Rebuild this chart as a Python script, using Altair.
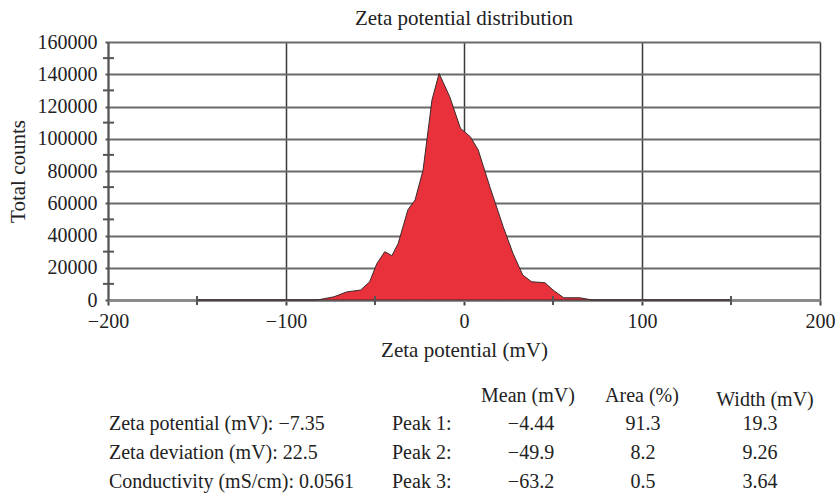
import altair as alt
import pandas as pd

# ---- data ----
zeta_mv = [-150, -100, -83, -81, -73, -66, -58, -53, -49, -44.5, -40.5, -37, -31.5,
           -27.5, -23, -18, -14, -8, -2, 3.5, 8, 14.5, 22, 27.5, 33, 38, 45.5, 50,
           56, 65, 72, 100, 150]
total_counts = [0, 0, 0, 300, 2000, 5000, 6200, 11300, 22500, 30000, 27500, 35000,
                56000, 62000, 80500, 124000, 140500, 126000, 106500, 101300, 93000,
                70300, 45500, 29000, 15500, 11300, 10700, 6200, 1400, 1400, 0, 0, 0]

x_ticks = [-200, -100, 0, 100, 200]
x_minor = [-150, -50, 50, 150]
y_ticks = [0, 20000, 40000, 60000, 80000, 100000, 120000, 140000, 160000]
y_minor = [10000, 30000, 50000, 70000, 90000, 110000, 130000, 150000]

summary_lines = ["Zeta potential (mV): \u22127.35",
                 "Zeta deviation (mV): 22.5",
                 "Conductivity (mS/cm): 0.0561"]
peak_names = ["Peak 1:", "Peak 2:", "Peak 3:"]
peak_mean = ["\u22124.44", "\u221249.9", "\u221263.2"]
peak_area = ["91.3", "8.2", "0.5"]
peak_width = ["19.3", "9.26", "3.64"]
col_headers = ["Mean (mV)", "Area (%)", "Width (mV)"]

FONT = "Liberation Serif"
W, H = 712, 258
TXT = 21
TABLE_TXT = 20

df = pd.DataFrame({"zeta": zeta_mv, "counts": total_counts})

xs = alt.Scale(domain=[-200, 200], nice=False, zero=False)
ys = alt.Scale(domain=[0, 160000], nice=False)

x_axis = alt.Axis(values=x_ticks, format="d", grid=True, gridColor="#3a3a3a",
                  gridWidth=1.5, gridOpacity=1, domainColor="#8a8a8a",
                  domainWidth=3, tickColor="#444", tickWidth=2, tickSize=5,
                  labelPadding=6, titlePadding=8, labelFlush=False,
                  labelOverlap=False)
y_axis = alt.Axis(values=y_ticks, format="d", grid=True, gridColor="#6a6a6a",
                  gridWidth=2, gridOpacity=1, domainColor="#555",
                  domainWidth=2, tickColor="#555", tickWidth=2, tickSize=3,
                  labelPadding=8, titlePadding=9, labelFlush=False,
                  labelOverlap=False)
X_TITLE = "Zeta potential (mV)"
Y_TITLE = "Total counts"

area = alt.Chart(df).mark_area(
    color="#e8313a", stroke="#3a2a2a", strokeWidth=1, interpolate="linear"
).encode(
    x=alt.X("zeta:Q", scale=xs, title=X_TITLE, axis=x_axis),
    y=alt.Y("counts:Q", scale=ys, title=Y_TITLE, axis=y_axis),
)

ymin = alt.Chart(pd.DataFrame({"v": y_minor})).mark_rule(
    color="#555", strokeWidth=2
).encode(y=alt.Y("v:Q", scale=ys, title=Y_TITLE, axis=y_axis),
         x=alt.value(-5), x2=alt.value(6))

xmin = alt.Chart(pd.DataFrame({"v": x_minor})).mark_rule(
    color="#555", strokeWidth=2
).encode(x=alt.X("v:Q", scale=xs, title=X_TITLE, axis=x_axis),
         y=alt.value(H - 4), y2=alt.value(H + 5))


def txt(lines, x, y, align):
    return alt.Chart(pd.DataFrame({"t": ["\n".join(lines)]})).mark_text(
        font=FONT, fontSize=TABLE_TXT, align=align, baseline="middle", color="#222",
        lineHeight=29, lineBreak="\n"
    ).encode(x=alt.value(x), y=alt.value(y), text="t:N")


table = [
    txt([col_headers[0]], 420, 354, "center"),
    txt([col_headers[1]], 534, 354, "center"),
    txt([col_headers[2]], 657, 358, "center"),
    txt(summary_lines, 1, 382, "left"),
    txt(peak_names, 284, 382, "left"),
    txt(peak_mean, 423, 382, "center"),
    txt(peak_area, 535, 382, "center"),
    txt(peak_width, 652, 382, "center"),
]

chart = alt.layer(area, ymin, xmin, *table).properties(
    width=W, height=H,
    title=alt.TitleParams("Zeta potential distribution", font=FONT, fontSize=TXT,
                          fontWeight="normal", color="#222", offset=3, anchor="middle"),
    autosize=alt.AutoSizeParams(type="none"),
    padding={"left": 108, "top": 42, "right": 17, "bottom": 193},
    background="white",
).configure_view(stroke=None).configure_axis(
    labelFont=FONT, titleFont=FONT, labelFontSize=20, titleFontSize=TXT,
    labelColor="#222", titleColor="#222", titleFontWeight="normal"
)

chart.save("out.html", embed_options={"renderer": "svg", "actions": False})
